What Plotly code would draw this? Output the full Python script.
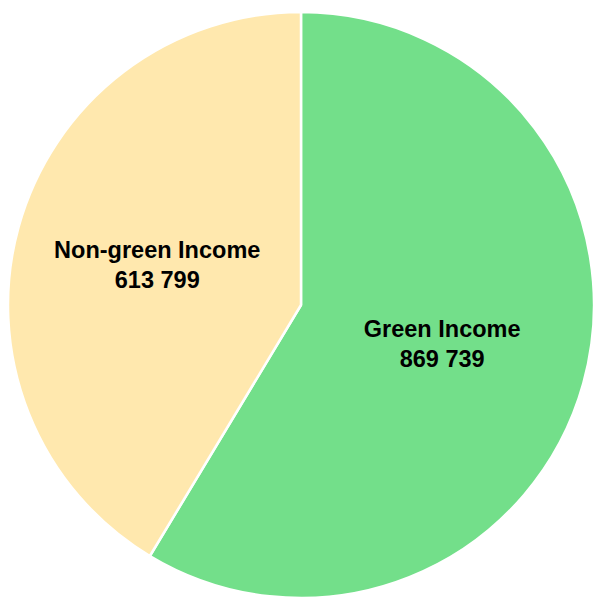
import plotly.graph_objects as go

labels = ["Green Income", "Non-green Income"]
values = [869739, 613799]
display_values = ["869 739", "613 799"]
colors = ["#73DF8A", "#FFE8AE"]

texts = [f"{l}<br>{v}" for l, v in zip(labels, display_values)]

fig = go.Figure(go.Pie(
    labels=labels,
    values=values,
    text=texts,
    textinfo="text",
    textposition="inside",
    insidetextorientation="horizontal",
    sort=False,
    direction="clockwise",
    rotation=0,
    marker=dict(colors=colors, line=dict(color="white", width=2.5)),
    textfont=dict(family="Liberation Sans, Arial, sans-serif", size=23.5, color="black", weight="bold"),
    hoverinfo="label+value",
))

fig.update_layout(
    width=594,
    height=599,
    margin=dict(l=8, r=0, t=11, b=0),
    showlegend=False,
    paper_bgcolor="white",
    uniformtext=dict(minsize=23, mode="show"),
)

fig.write_html("out.html")
